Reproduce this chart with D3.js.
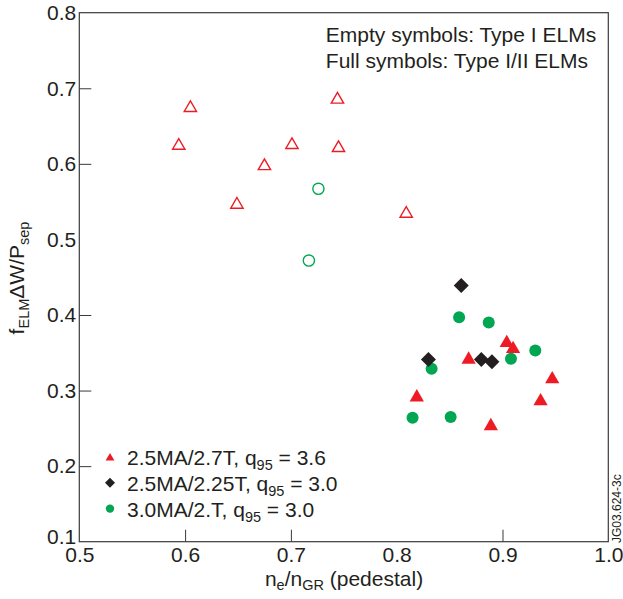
<!DOCTYPE html>
<html>
<head>
<meta charset="utf-8">
<script src="https://cdn.jsdelivr.net/npm/d3@7"></script>
<style>
  body { margin: 0; background: #fff; }
  svg { font-family: "Liberation Sans", Arial, Helvetica, sans-serif; }
  .axis path { display: none; }
  .axis line { stroke: #3a3a3a; stroke-width: 1; }
  .axis text { font-size: 21px; fill: #231f20; }
</style>
</head>
<body>
<div id="chart"></div>
<script>
// Axis ticks
const xTicks = [0.5, 0.6, 0.7, 0.8, 0.9, 1.0];
const yTicks = [0.1, 0.2, 0.3, 0.4, 0.5, 0.6, 0.7, 0.8];

// Type I ELMs (empty symbols)
const triOpenX = [0.594, 0.605, 0.649, 0.675, 0.701, 0.744, 0.745, 0.809];
const triOpenY = [0.626, 0.676, 0.548, 0.599, 0.627, 0.687, 0.623, 0.536];
const circOpenX = [0.726, 0.717];
const circOpenY = [0.567, 0.472];

// Type I/II ELMs (full symbols)
const triFullX = [0.904, 0.910, 0.868, 0.947, 0.819, 0.936, 0.889];
const triFullY = [0.365, 0.357, 0.343, 0.317, 0.293, 0.288, 0.255];
const diamX = [0.861, 0.830, 0.880, 0.890];
const diamY = [0.439, 0.341, 0.341, 0.338];
const circFullX = [0.859, 0.887, 0.931, 0.908, 0.833, 0.815, 0.851];
const circFullY = [0.397, 0.390, 0.353, 0.342, 0.329, 0.264, 0.265];

const red = "#ed1c24", black = "#231f20", green = "#00a651";

const margin = {top: 12.7, left: 79.3};
const width = 529;
const height = 529;

const svg = d3.select("#chart").append("svg")
    .attr("width", 623)
    .attr("height", 599);

const g = svg.append("g")
    .attr("transform", `translate(${margin.left},${margin.top})`);

const x = d3.scaleLinear().domain([0.5, 1.0]).range([0, width]);
const y = d3.scaleLinear().domain([0.1, 0.8]).range([height, 0]);

// Axes with inward ticks
g.append("g")
    .attr("class", "axis")
    .attr("transform", `translate(0,${height})`)
    .call(d3.axisBottom(x).tickValues(xTicks).tickFormat(d3.format(".1f"))
        .tickSizeInner(-12).tickSizeOuter(0).tickPadding(5));

const yAxis = g.append("g")
    .attr("class", "axis")
    .call(d3.axisLeft(y).tickValues(yTicks).tickFormat(d3.format(".1f"))
        .tickSizeInner(-12).tickSizeOuter(0).tickPadding(3));

// lift the bottom label off the corner, as in the original
yAxis.selectAll(".tick text").filter(d => d === 0.1).attr("y", -5);

// remove the tick lines at the corners (frame covers them)
g.selectAll(".axis .tick line").filter(d => d === 0.5 || d === 1.0 || d === 0.1 || d === 0.8).remove();

// frame
g.append("rect")
    .attr("width", width)
    .attr("height", height)
    .attr("fill", "none")
    .attr("stroke", "#3a3a3a")
    .attr("stroke-width", 1.2);

// symbols
const triFull = d3.symbol().type(d3.symbolTriangle).size(88);
const triOpen = d3.symbol().type(d3.symbolTriangle).size(66);
const sq = d3.symbol().type(d3.symbolSquare).size(112);

function pts(xs, ys) { return xs.map((v, i) => ({x: v, y: ys[i]})); }

g.selectAll(".tri-open").data(pts(triOpenX, triOpenY)).enter().append("path")
    .attr("d", triOpen)
    .attr("transform", d => `translate(${x(d.x)},${y(d.y) + 1.5})`)
    .attr("fill", "none").attr("stroke", red).attr("stroke-width", 1.4);

g.selectAll(".circ-open").data(pts(circOpenX, circOpenY)).enter().append("circle")
    .attr("cx", d => x(d.x)).attr("cy", d => y(d.y)).attr("r", 5.6)
    .attr("fill", "none").attr("stroke", green).attr("stroke-width", 1.4);

g.selectAll(".circ-full").data(pts(circFullX, circFullY)).enter().append("circle")
    .attr("cx", d => x(d.x)).attr("cy", d => y(d.y)).attr("r", 6)
    .attr("fill", green);

g.selectAll(".tri-full").data(pts(triFullX, triFullY)).enter().append("path")
    .attr("d", triFull)
    .attr("transform", d => `translate(${x(d.x)},${y(d.y) + 1.5})`)
    .attr("fill", red);

g.selectAll(".diam").data(pts(diamX, diamY)).enter().append("path")
    .attr("d", sq)
    .attr("transform", d => `translate(${x(d.x)},${y(d.y)}) rotate(45)`)
    .attr("fill", black);

// annotation
const note = g.append("text")
    .attr("x", 246.5)
    .attr("y", 29)
    .style("font-size", "21px")
    .style("fill", black);
note.append("tspan").attr("x", 246.5).text("Empty symbols: Type I ELMs");
note.append("tspan").attr("x", 246.5).attr("dy", 26.5).text("Full symbols: Type I/II ELMs");

// legend
const legendItems = [
    {shape: "tri", color: red, label: "2.5MA/2.7T, q", val: " = 3.6"},
    {shape: "diam", color: black, label: "2.5MA/2.25T, q", val: " = 3.0"},
    {shape: "circ", color: green, label: "3.0MA/2.T, q", val: " = 3.0"}
];
const legend = svg.append("g").attr("transform", "translate(110,457)");
legendItems.forEach((d, i) => {
    const row = legend.append("g").attr("transform", `translate(0,${i * 25.8})`);
    if (d.shape === "tri") {
        row.append("path").attr("d", d3.symbol().type(d3.symbolTriangle).size(34))
            .attr("transform", "translate(0,1)").attr("fill", d.color);
    } else if (d.shape === "diam") {
        row.append("path").attr("d", d3.symbol().type(d3.symbolSquare).size(50))
            .attr("transform", "rotate(45)").attr("fill", d.color);
    } else {
        row.append("circle").attr("r", 4.2).attr("fill", d.color);
    }
    const t = row.append("text")
        .attr("x", 17).attr("y", 8)
        .style("font-size", "21px").style("fill", black);
    t.append("tspan").text(d.label);
    t.append("tspan").attr("dy", 5).style("font-size", "14.5px").text("95");
    t.append("tspan").attr("dy", -5).text(d.val);
});

// x axis title
const xt = svg.append("text")
    .attr("x", 344).attr("y", 586)
    .attr("text-anchor", "middle")
    .style("font-size", "21px").style("fill", black);
xt.append("tspan").text("n");
xt.append("tspan").attr("dy", 4).style("font-size", "14.5px").text("e");
xt.append("tspan").attr("dy", -4).text("/n");
xt.append("tspan").attr("dy", 4).style("font-size", "14.5px").text("GR");
xt.append("tspan").attr("dy", -4).text(" (pedestal)");

// y axis title
const yt = svg.append("text")
    .attr("transform", "translate(24,278) rotate(-90)")
    .attr("text-anchor", "middle")
    .style("font-size", "21px").style("fill", black);
yt.append("tspan").text("f");
yt.append("tspan").attr("dy", 5).style("font-size", "14.5px").text("ELM");
yt.append("tspan").attr("dy", -5).text("\u0394W/P");
yt.append("tspan").attr("dy", 5).style("font-size", "14.5px").text("sep");

// figure id
svg.append("text")
    .attr("transform", "translate(621,543) rotate(-90)")
    .style("font-size", "12px").style("fill", black)
    .text("JG03.624-3c");
</script>
</body>
</html>
